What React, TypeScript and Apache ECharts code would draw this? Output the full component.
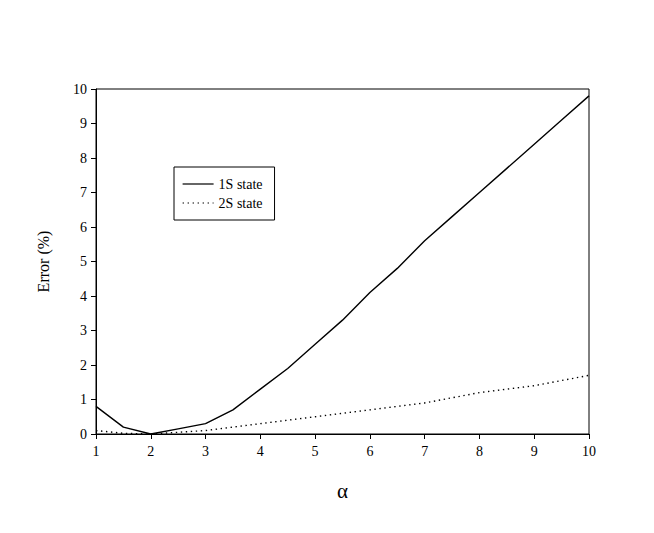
import React, { useEffect, useRef } from "react";
import * as echarts from "echarts";

const alpha = [1, 1.5, 2, 2.5, 3, 3.5, 4, 4.5, 5, 5.5, 6, 6.5, 7, 7.5, 8, 8.5, 9, 9.5, 10];
const err1S = [0.8, 0.2, 0, 0.15, 0.3, 0.7, 1.3, 1.9, 2.6, 3.3, 4.1, 4.8, 5.6, 6.3, 7.0, 7.7, 8.4, 9.1, 9.8];
const err2S = [0.1, 0.02, 0, 0.05, 0.1, 0.2, 0.3, 0.4, 0.5, 0.6, 0.7, 0.8, 0.9, 1.05, 1.2, 1.3, 1.4, 1.55, 1.7];
const seriesNames = ["1S state", "2S state"];

const FONT = "'Liberation Serif', 'Times New Roman', serif";

export default function App() {
  const ref = useRef<HTMLDivElement>(null);
  useEffect(() => {
    document.body.style.margin = "0";
    if (!ref.current) return;
    const chart = echarts.init(ref.current, undefined, { renderer: "svg" });
    chart.setOption({
      animation: false,
      backgroundColor: "#fff",
      textStyle: { fontFamily: FONT },
      grid: {
        left: 96,
        right: 65,
        top: 89,
        bottom: 99,
        show: true,
        borderColor: "#000",
        borderWidth: 1,
        backgroundColor: "transparent",
      },
      legend: {
        left: 174,
        top: 167,
        orient: "vertical",
        data: seriesNames,
        borderColor: "#000",
        borderWidth: 1,
        padding: [10, 12, 10, 8],
        itemGap: 5,
        itemWidth: 31,
        itemHeight: 14,
        itemStyle: { opacity: 0 },
        lineStyle: { width: 1.2 },
        textStyle: { fontFamily: FONT, fontSize: 14, color: "#000" },
      },
      xAxis: {
        type: "value",
        min: 1,
        max: 10,
        interval: 1,
        name: "α",
        nameLocation: "middle",
        nameGap: 46,
        nameTextStyle: { fontFamily: FONT, fontSize: 21, color: "#000" },
        axisLine: { lineStyle: { color: "#000", width: 1 } },
        axisTick: { show: true, length: 5, lineStyle: { color: "#000" } },
        axisLabel: { color: "#000", fontSize: 14, fontFamily: FONT, margin: 10 },
        splitLine: { show: false },
      },
      yAxis: {
        type: "value",
        min: 0,
        max: 10,
        interval: 1,
        name: "Error (%)",
        nameLocation: "middle",
        nameGap: 45,
        nameTextStyle: { fontFamily: FONT, fontSize: 16, color: "#000" },
        axisLine: { show: true, lineStyle: { color: "#000", width: 1 } },
        axisTick: { show: true, length: 5, lineStyle: { color: "#000" } },
        axisLabel: { color: "#000", fontSize: 14, fontFamily: FONT, margin: 9 },
        splitLine: { show: false },
      },
      series: [
        {
          name: seriesNames[0],
          type: "line",
          data: alpha.map((a, i) => [a, err1S[i]]),
          symbol: "none",
          lineStyle: { color: "#000", width: 1.4, type: "solid" },
          itemStyle: { color: "#000" },
        },
        {
          name: seriesNames[1],
          type: "line",
          data: alpha.map((a, i) => [a, err2S[i]]),
          symbol: "none",
          lineStyle: { color: "#000", width: 1.4, type: [1.4, 3.6] },
          itemStyle: { color: "#000" },
        },
      ],
    });
    return () => chart.dispose();
  }, []);
  return <div ref={ref} style={{ width: 654, height: 533 }} />;
}
